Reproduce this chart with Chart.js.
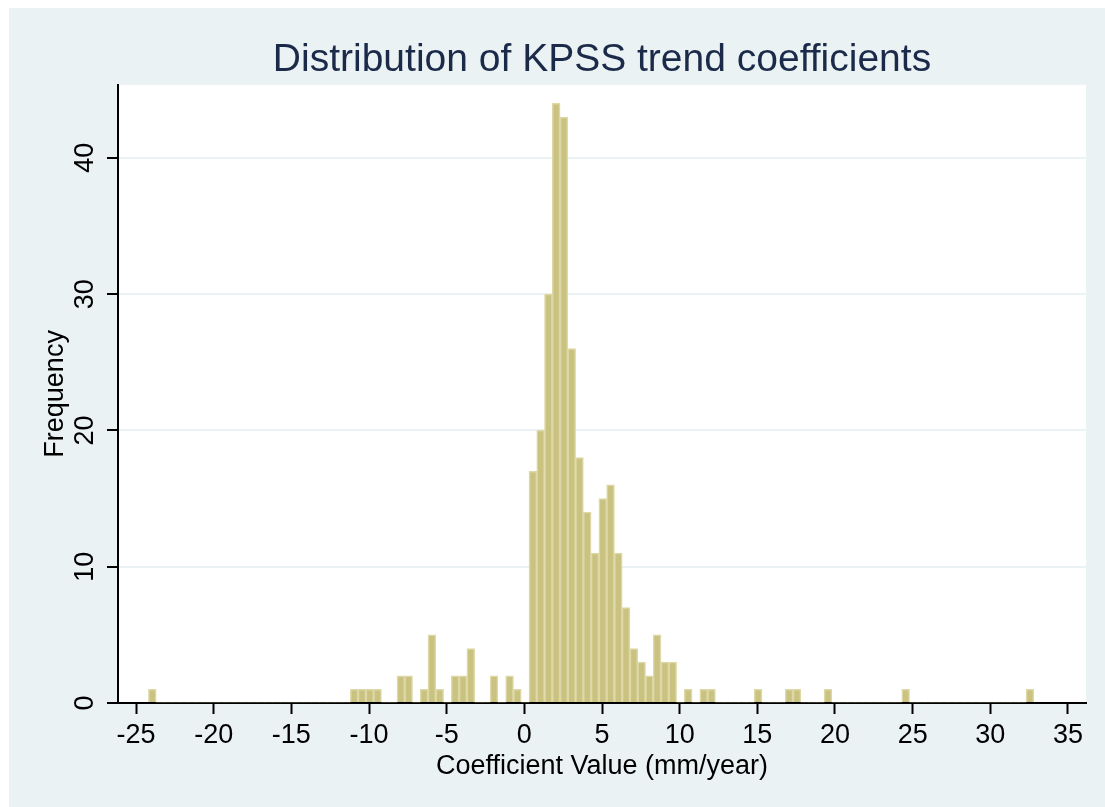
<!DOCTYPE html>
<html>
<head>
<meta charset="utf-8">
<script src="https://cdn.jsdelivr.net/npm/chart.js@4.4.1/dist/chart.umd.min.js"></script>
<style>
  html, body { margin: 0; padding: 0; background: #ffffff; }
  #wrap { width: 1105px; height: 807px; }
</style>
</head>
<body>
<div id="wrap"><canvas id="c" width="1105" height="807"></canvas></div>
<script>
// ---- Data ----
const titleText = 'Distribution of KPSS trend coefficients';
const xAxisTitle = 'Coefficient Value (mm/year)';
const yAxisTitle = 'Frequency';

// histogram bins: left edge of the first bin and common bin width
const binStart = -24.2;
const binWidth = 0.5;

// frequency of each bin (114 bins, from -24.2 to 32.8)
const counts = [
  1, 0, 0, 0, 0, 0, 0, 0, 0, 0,      // bins 0-9
  0, 0, 0, 0, 0, 0, 0, 0, 0, 0,      // bins 10-19
  0, 0, 0, 0, 0, 0, 1, 1, 1, 1,      // bins 20-29
  0, 0, 2, 2, 0, 1, 5, 1, 0, 2,      // bins 30-39
  2, 4, 0, 0, 2, 0, 2, 1, 0, 17,     // bins 40-49
  20, 30, 44, 43, 26, 18, 14, 11, 15, 16, // bins 50-59
  11, 7, 4, 3, 2, 5, 3, 3, 0, 1,     // bins 60-69
  0, 1, 1, 0, 0, 0, 0, 0, 1, 0,      // bins 70-79
  0, 0, 1, 1, 0, 0, 0, 1, 0, 0,      // bins 80-89
  0, 0, 0, 0, 0, 0, 0, 1, 0, 0,      // bins 90-99
  0, 0, 0, 0, 0, 0, 0, 0, 0, 0,      // bins 100-109
  0, 0, 0, 1                         // bins 110-113
];

const xTickValues = [-25, -20, -15, -10, -5, 0, 5, 10, 15, 20, 25, 30, 35];
const yTickValues = [0, 10, 20, 30, 40];
const xLimits = [-26.16, 36.16];
const yLimits = [0, 45.36];

// ---- Chart ----
const FONT = "'Liberation Sans', Arial, Helvetica, sans-serif";
Chart.defaults.font.family = FONT;
Chart.defaults.color = '#000000';

const histData = counts.map((c, i) => ({ x: binStart + binWidth * (i + 0.5), y: c }));

const backgroundPlugin = {
  id: 'stataBackground',
  beforeDraw(chart) {
    const { ctx, chartArea: a, width, height } = chart;
    ctx.save();
    ctx.fillStyle = '#ffffff';
    ctx.fillRect(0, 0, width, height);
    ctx.fillStyle = '#EAF2F3';
    ctx.fillRect(9, 8, width - 9, height - 8);
    ctx.fillStyle = '#ffffff';
    ctx.fillRect(a.left, a.top, a.right - a.left, a.bottom - a.top);
    ctx.restore();
  }
};

new Chart(document.getElementById('c'), {
  type: 'bar',
  data: {
    datasets: [{
      label: 'Frequency',
      data: histData,
      backgroundColor: 'rgb(202,194,128)',
      borderColor: 'rgb(221,216,166)',
      borderWidth: (ctx) => (ctx.raw && ctx.raw.y > 0 ? 1.5 : 0),
      borderSkipped: 'start',
      barPercentage: 1.0,
      categoryPercentage: 1.0,
      grouped: false
    }]
  },
  options: {
    responsive: false,
    animation: false,
    events: [],
    layout: { padding: { left: 9, top: 8, right: 19, bottom: 0 } },
    plugins: {
      legend: { display: false },
      tooltip: { enabled: false },
      title: {
        display: true,
        text: titleText,
        color: '#1c2a4a',
        fullSize: false,
        font: { size: 39, weight: 'normal', family: FONT },
        padding: { top: 29, bottom: 1 }
      }
    },
    scales: {
      x: {
        type: 'linear',
        min: xLimits[0],
        max: xLimits[1],
        offset: false,
        afterBuildTicks: (s) => { s.ticks = xTickValues.map(v => ({ value: v })); },
        afterFit: (s) => { s.height = 104; s.paddingLeft = 0; s.paddingRight = 0; },
        ticks: {
          autoSkip: false,
          minRotation: 0,
          maxRotation: 0,
          padding: 5,
          color: '#000000',
          font: { size: 27, family: FONT },
          callback: (v) => String(v)
        },
        grid: {
          drawOnChartArea: false,
          drawTicks: true,
          tickLength: 11,
          tickColor: '#000000',
          tickWidth: 2,
          offset: false
        },
        border: { display: true, color: '#000000', width: 2 },
        title: {
          display: true,
          text: xAxisTitle,
          color: '#000000',
          font: { size: 27, family: FONT },
          padding: { top: 0, bottom: 24 }
        }
      },
      y: {
        type: 'linear',
        min: yLimits[0],
        max: yLimits[1],
        afterBuildTicks: (s) => { s.ticks = yTickValues.map(v => ({ value: v })); },
        afterFit: (s) => { s.width = 109; s.paddingTop = 0; s.paddingBottom = 0; },
        ticks: {
          autoSkip: false,
          minRotation: 90,
          maxRotation: 90,
          crossAlign: 'center',
          padding: 6.5,
          color: '#000000',
          font: { size: 27, family: FONT },
          callback: (v) => String(v)
        },
        grid: {
          color: '#EAF2F3',
          lineWidth: 2,
          drawTicks: true,
          tickLength: 11,
          tickColor: '#000000',
          tickWidth: 2
        },
        border: { display: true, color: '#000000', width: 2 },
        title: {
          display: true,
          text: yAxisTitle,
          color: '#000000',
          font: { size: 27, family: FONT },
          padding: { top: 30, bottom: 0 }
        }
      }
    }
  },
  plugins: [backgroundPlugin]
});
</script>
</body>
</html>
